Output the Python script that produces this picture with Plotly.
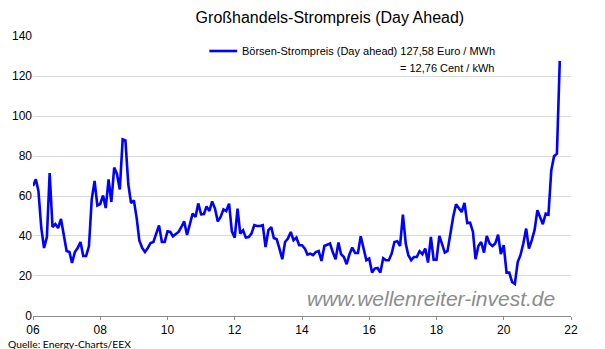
import pandas as pd
import plotly.graph_objects as go

# Monthly day-ahead baseload price (Euro/MWh), Jan 2006 .. Sep 2021
first_month = "2006-01-01"
prices = [
    # 2006
    65.0, 68.4, 62.5, 44.0, 34.0, 39.5, 71.5, 44.5, 46.0, 44.0, 48.5, 40.0,
    # 2007
    32.5, 32.0, 26.5, 32.0, 34.0, 37.0, 30.0, 30.0, 35.0, 58.3, 67.5, 55.3,
    # 2008
    56.0, 60.3, 54.0, 68.3, 57.0, 74.2, 71.0, 63.3, 88.3, 87.8, 66.0, 56.5,
    # 2009
    57.8, 48.7, 37.8, 34.0, 32.0, 34.0, 36.5, 37.0, 41.0, 45.3, 37.0, 37.0,
    # 2010
    42.3, 42.0, 39.8, 41.0, 42.0, 44.5, 47.3, 40.5, 46.5, 51.2, 49.5, 56.3,
    # 2011
    50.8, 51.0, 54.8, 52.5, 57.3, 53.7, 47.3, 49.5, 53.3, 52.5, 56.2, 42.3,
    # 2012
    39.2, 53.7, 41.2, 42.9, 39.2, 39.5, 41.2, 45.4, 45.0, 45.0, 45.4, 34.5,
    # 2013
    42.9, 44.5, 39.0, 38.4, 33.7, 28.4, 37.0, 38.7, 42.0, 37.9, 39.2, 35.4,
    # 2014
    35.4, 33.7, 30.7, 31.2, 30.4, 32.0, 32.5, 27.5, 35.0, 35.4, 36.2, 32.0,
    # 2015
    28.4, 36.7, 30.9, 29.5, 25.9, 30.9, 34.2, 31.5, 31.5, 39.9, 32.9, 27.9,
    # 2016
    28.7, 21.7, 23.7, 24.0, 21.7, 28.9, 27.9, 27.9, 31.2, 37.0, 37.4, 35.0,
    # 2017
    50.7, 36.2, 30.4, 27.9, 29.5, 29.5, 32.4, 30.9, 33.7, 26.7, 39.5, 28.2,
    # 2018
    28.2, 40.0, 36.2, 31.7, 32.5, 42.0, 49.5, 55.9, 54.0, 52.0, 56.5, 46.5,
    # 2019
    46.7, 42.0, 28.4, 35.0, 37.0, 31.7, 40.0, 36.2, 35.0, 36.2, 40.7, 30.9,
    # 2020
    35.4, 21.7, 21.7, 17.0, 16.0, 27.0, 30.4, 36.2, 43.7, 33.7, 37.9, 42.9,
    # 2021
    52.9, 49.5, 45.9, 51.2, 50.7, 72.9, 79.9, 81.2, 127.58,
]

tick_years = [2006, 2008, 2010, 2012, 2014, 2016, 2018, 2020, 2022]
tick_labels = ["06", "08", "10", "12", "14", "16", "18", "20", "22"]
y_ticks = [0, 20, 40, 60, 80, 100, 120, 140]

months = pd.date_range(first_month, periods=len(prices), freq="MS")
last_price = prices[-1]
euro_txt = f"{last_price:.2f}".replace(".", ",")
cent_txt = f"{last_price / 10:.2f}".replace(".", ",")

fig = go.Figure()
fig.add_trace(go.Scatter(
    x=months, y=prices, mode="lines",
    line=dict(color="#0000ff", width=2.6),
    showlegend=False, hoverinfo="skip",
))

W, H = 605, 349
L, R, T, B = 31, 34, 36, 33
pw = W - L - R
ph = H - T - B


def px_x(x):
    return (x - L) / pw


def px_y(y):
    return 1 - (y - T) / ph


font_main = "Liberation Sans, Arial, sans-serif"

fig.update_layout(
    width=W, height=H,
    margin=dict(l=L, r=R, t=T, b=B, pad=0),
    paper_bgcolor="white", plot_bgcolor="white",
    font=dict(family=font_main, size=12, color="#000000"),
    title=dict(
        text="Großhandels-Strompreis (Day Ahead)",
        x=px_x(329), xref="paper", xanchor="center",
        y=1 - 17 / H, yref="container", yanchor="middle",
        font=dict(family=font_main, size=16, color="#000000"),
    ),
    xaxis=dict(
        range=["2006-01-01", "2022-01-01"],
        tickvals=[f"{y}-01-01" for y in tick_years],
        ticktext=tick_labels,
        showgrid=False, zeroline=False,
        showline=True, linecolor="#8c8c8c", linewidth=1,
        ticks="outside", ticklen=3, tickcolor="#8c8c8c",
        tickfont=dict(size=12),
    ),
    yaxis=dict(
        range=[-0.01, 140.01], tickvals=y_ticks,
        showgrid=True, gridcolor="#d9d9d9", gridwidth=1,
        zeroline=False, showline=False, ticks="",
        tickfont=dict(size=12),
    ),
)

# legend sample line and its caption
fig.add_shape(type="line", xref="paper", yref="paper",
              x0=px_x(208), x1=px_x(236), y0=px_y(51), y1=px_y(51),
              line=dict(color="#0000ff", width=2.6))
fig.add_annotation(
    text=f"Börsen-Strompreis (Day ahead) {euro_txt} Euro / MWh",
    xref="paper", yref="paper", x=px_x(239), y=px_y(51),
    xanchor="left", yanchor="middle", showarrow=False,
    font=dict(family=font_main, size=11, color="#000000"),
)
fig.add_annotation(
    text=f"= {cent_txt} Cent / kWh",
    xref="paper", yref="paper", x=px_x(496), y=px_y(68),
    xanchor="right", yanchor="middle", showarrow=False,
    font=dict(family=font_main, size=11, color="#000000"),
)

# watermark
fig.add_annotation(
    text="www.wellenreiter-invest.de",
    xref="paper", yref="paper", x=px_x(557), y=px_y(298),
    xanchor="right", yanchor="middle", showarrow=False,
    font=dict(family=font_main, size=21, color="#8c8c8c", style="italic"),
)

# source line
fig.add_annotation(
    text="Quelle: Energy-Charts/EEX",
    xref="paper", yref="paper", x=px_x(4), y=px_y(343.5),
    xanchor="left", yanchor="middle", showarrow=False,
    font=dict(family="Lato, Open Sans, sans-serif", size=10.3, color="#000000"),
)

fig.write_html("out.html")
